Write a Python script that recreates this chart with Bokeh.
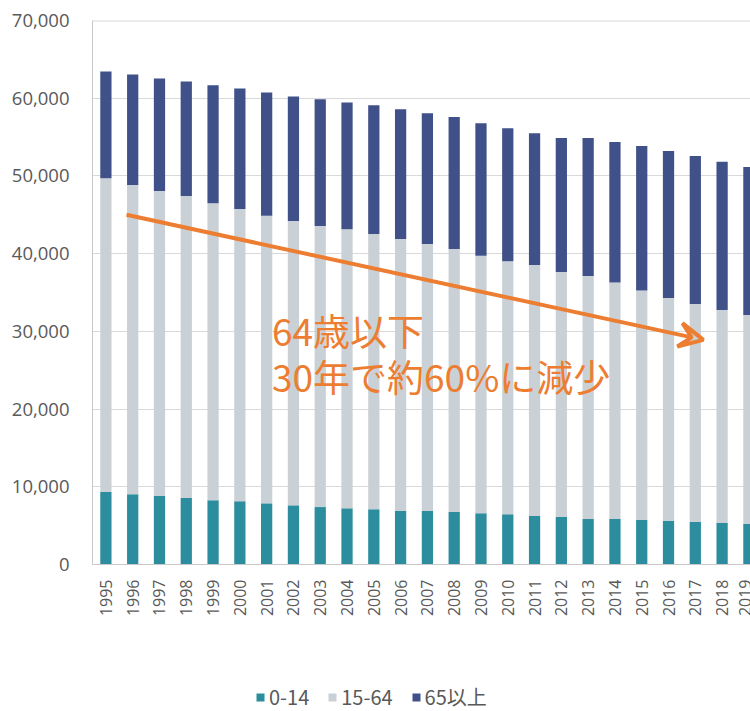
import math
from bokeh.plotting import figure
from bokeh.layouts import column
from bokeh.models import (ColumnDataSource, Range1d, FixedTicker, NumeralTickFormatter, Legend,
                          LegendItem, Arrow, VeeHead, Span)
from bokeh.core.properties import value
from bokeh.embed import file_html
from bokeh.resources import INLINE

years = list(range(1995, 2020))
total = [63440, 63050, 62540, 62150, 61680, 61250, 60730, 60220, 59870, 59440, 59100, 58580,
         58070, 57590, 56770, 56130, 55480, 54880, 54880, 54360, 53850, 53200, 52560, 51830, 51140]
under65 = [49700, 48840, 48070, 47420, 46480, 45750, 44880, 44200, 43560, 43130, 42520, 41880,
           41250, 40610, 39740, 39010, 38540, 37640, 37120, 36300, 35270, 34280, 33510, 32740, 32090]
young = [9330, 9030, 8810, 8550, 8260, 8130, 7870, 7610, 7390, 7230, 7100, 6880,
         6880, 6750, 6580, 6450, 6230, 6100, 5850, 5850, 5720, 5590, 5460, 5330, 5200]
working = [u - y for u, y in zip(under65, young)]
old = [t - u for t, u in zip(total, under65)]

series_names = ["0-14", "15-64", "65以上"]
colors = ["#2b8d9d", "#c9d1d6", "#3f5188"]
y_ticks = [0, 10000, 20000, 30000, 40000, 50000, 60000, 70000]

annot_lines = ["64歳以下", "30年で約60%に減少"]
annot_x = [2001.2, 2001.2]
annot_y = [30190, 24260]
arrow_start = (1995.77, 45000)
arrow_end = (2017.3, 28900)

FONT = "Noto Sans CJK JP"
NUM_FONT = "Open Sans"
ORANGE = "#ed7d31"
GRAY_TEXT = "#595959"

src = ColumnDataSource(dict(year=years, young=young, working=working, old=old))

H1 = 681
p = figure(width=750, height=H1, output_backend="svg", toolbar_location=None,
           x_range=Range1d(1994.5, 2019.06), y_range=Range1d(0, 70000),
           min_border_left=92, min_border_top=20, min_border_right=0, min_border_bottom=H1 - 564)

renderers = p.vbar_stack(["young", "working", "old"], x="year", width=0.42, color=colors,
                         source=src, line_color=None)

p.outline_line_color = None
p.background_fill_color = "white"
p.border_fill_color = "white"

p.xgrid.grid_line_color = None
p.ygrid.grid_line_color = "#d9d9d9"
p.ygrid.grid_line_width = 1
p.ygrid.ticker = FixedTicker(ticks=y_ticks)
p.add_layout(Span(location=70000, dimension="width", line_color="#d9d9d9", line_width=2))

p.yaxis.ticker = FixedTicker(ticks=y_ticks)
p.yaxis.formatter = NumeralTickFormatter(format="0,0")
p.yaxis.major_tick_line_color = None
p.yaxis.minor_tick_line_color = None
p.yaxis.axis_line_color = "#c8c8c8"
p.yaxis.major_label_standoff = 17
p.yaxis.major_label_text_font = NUM_FONT
p.yaxis.major_label_text_font_size = "18.5px"
p.yaxis.major_label_text_color = GRAY_TEXT

p.xaxis.ticker = FixedTicker(ticks=years)
p.xaxis.major_label_overrides = {yr: str(yr) for yr in years}
p.xaxis.major_label_orientation = math.pi / 2
p.xaxis.major_tick_line_color = None
p.xaxis.minor_tick_line_color = None
p.xaxis.axis_line_color = "#c8c8c8"
p.xaxis.major_label_standoff = 9
p.xaxis.major_label_text_font = NUM_FONT
p.xaxis.major_label_text_font_size = "16px"
p.xaxis.major_label_text_color = GRAY_TEXT

p.add_layout(Arrow(end=VeeHead(size=24, line_color=ORANGE, line_width=4, fill_color=None),
                   x_start=arrow_start[0], y_start=arrow_start[1],
                   x_end=arrow_end[0], y_end=arrow_end[1],
                   line_color=ORANGE, line_width=4))

p.text(x=annot_x, y=annot_y, text=annot_lines,
       text_font=value(FONT), text_font_size="37px", text_color=ORANGE,
       text_baseline="middle", text_align="left")

# legend strip below the chart
p2 = figure(width=750, height=711 - H1, output_backend="svg", toolbar_location=None,
            x_range=Range1d(0, 1), y_range=Range1d(0, 1),
            min_border=0, min_border_left=0, min_border_right=0, min_border_top=0, min_border_bottom=0)
p2.axis.visible = False
p2.grid.visible = False
p2.outline_line_color = None
dummy = [p2.rect(x=[-5], y=[-5], width=1, height=1, fill_color=c, line_color=None) for c in colors]
legend = Legend(items=[LegendItem(label=n, renderers=[r]) for n, r in zip(series_names, dummy)],
                orientation="horizontal", location=(163, 0),
                label_text_font=FONT, label_text_font_size="20px", label_text_color=GRAY_TEXT,
                glyph_width=10, glyph_height=10, spacing=18, label_standoff=4,
                border_line_color=None, background_fill_alpha=0, padding=0, margin=0)
p2.add_layout(legend)

open("out.html", "w").write(file_html(column(p, p2, spacing=0), INLINE))
